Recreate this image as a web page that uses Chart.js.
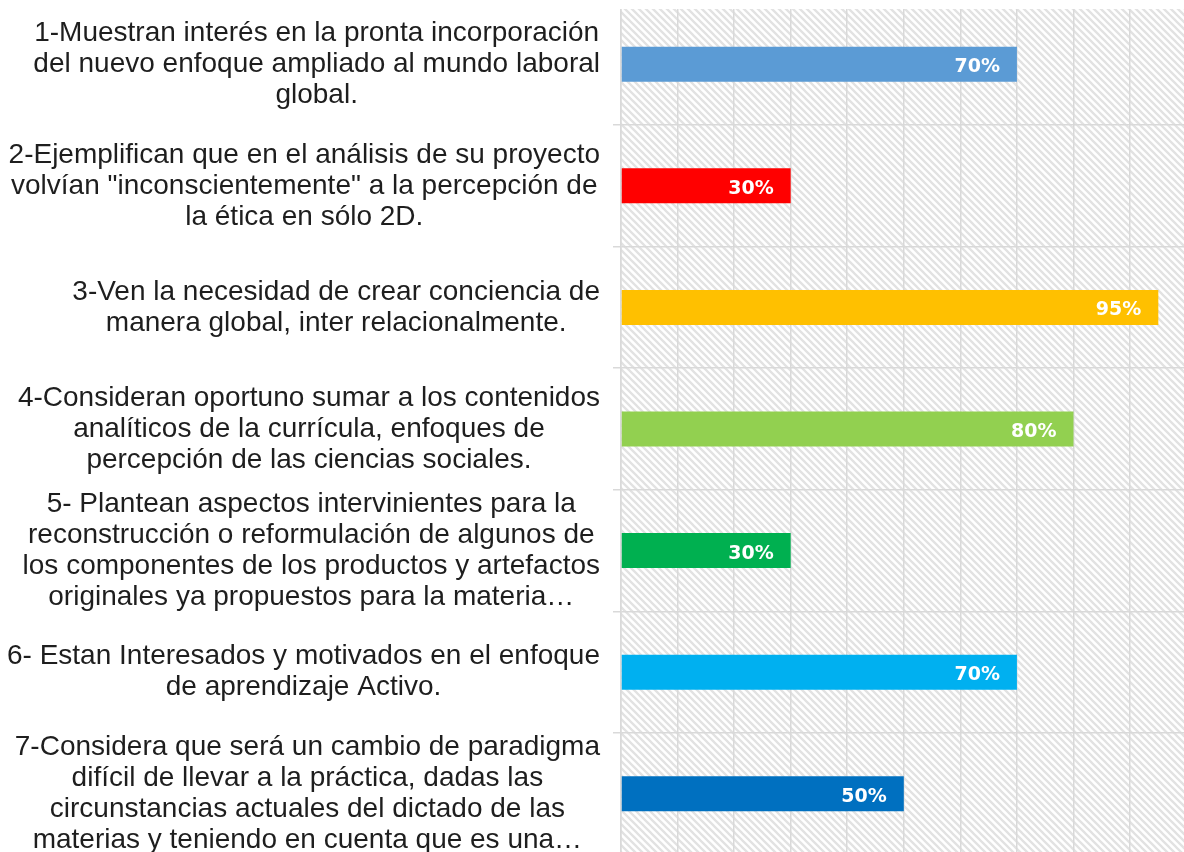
<!DOCTYPE html>
<html lang="es">
<head>
<meta charset="utf-8">
<title>Percepción del enfoque ampliado</title>
<script src="https://cdn.jsdelivr.net/npm/chart.js@4.4.1/dist/chart.umd.min.js"></script>
<style>
    html, body { margin: 0; padding: 0; background: #fff; overflow: hidden; }
    #wrap { position: absolute; left: 0; top: 0; }
</style>
</head>
<body>
<div id="wrap"><canvas id="chart" width="1190" height="858"></canvas></div>
<script>
// Categories (one array of lines per bar, as wrapped in the original)
const categories = [
    ['1-Muestran interés en la pronta incorporación', 'del nuevo enfoque ampliado al mundo laboral', 'global.'],
    ['2-Ejemplifican que en el análisis de su proyecto', 'volvían "inconscientemente" a la percepción de', 'la ética en sólo 2D.'],
    ['3-Ven la necesidad de crear conciencia de', 'manera global, inter relacionalmente.'],
    ['4-Consideran oportuno sumar a los contenidos', 'analíticos de la currícula, enfoques de', 'percepción de las ciencias sociales.'],
    ['5- Plantean aspectos intervinientes para la', 'reconstrucción o reformulación de algunos de', 'los componentes de los productos y artefactos', 'originales ya propuestos para la materia…'],
    ['6- Estan Interesados y motivados en el enfoque', 'de aprendizaje Activo.'],
    ['7-Considera que será un cambio de paradigma', 'difícil de llevar a la práctica, dadas las', 'circunstancias actuales del dictado de las', 'materias y teniendo en cuenta que es una…']
];

// Percentages
const values = [70, 30, 95, 80, 30, 70, 50];

const barColors = ['#5B9BD5', '#FF0000', '#FFC000', '#92D050', '#00B050', '#00B0F0', '#0070C0'];

// Value axis (no tick labels shown, only the grid)
const axisMin = 0;
const axisMax = 100;
const axisStep = 10;

// Layout constants
const PLOT_TOP = 9;          // hatched frame starts slightly below first band
const LABEL_RIGHT = 600;
const LABEL_LINE_H = 31;
const LABEL_FONT = '28px "Liberation Sans", Arial, sans-serif';
const GRID_COLOR = '#d9d9d9';

// Diagonal hatch tile for the plot background
const hatchTile = document.createElement('canvas');
(function () {
    const s = 7;
    hatchTile.width = s;
    hatchTile.height = s;
    const g = hatchTile.getContext('2d');
    g.strokeStyle = '#e2e2e2';
    g.lineWidth = 2.3;
    g.beginPath();
    g.moveTo(-1, -1); g.lineTo(s + 1, s + 1);
    g.moveTo(-2, s - 2); g.lineTo(2, s + 2);
    g.moveTo(s - 2, -2); g.lineTo(s + 2, 2);
    g.stroke();
})();

const plotBackground = {
    id: 'plotBackground',
    beforeDraw(chart) {
        const { ctx, chartArea: a } = chart;
        ctx.save();
        ctx.fillStyle = ctx.createPattern(hatchTile, 'repeat');
        ctx.fillRect(a.left, PLOT_TOP, a.right - a.left, a.bottom - PLOT_TOP);
        ctx.restore();
    },
    beforeDatasetsDraw(chart) {
        // hide grid above the frame top
        const { ctx, chartArea: a } = chart;
        ctx.save();
        ctx.fillStyle = '#fff';
        ctx.fillRect(a.left - 12, 0, a.right - a.left + 20, PLOT_TOP);
        ctx.restore();
    }
};

// Multi-line category labels, centred within their own block, block right-aligned
const categoryLabels = {
    id: 'categoryLabels',
    afterDraw(chart) {
        const { ctx } = chart;
        const yScale = chart.scales.y;
        ctx.save();
        ctx.font = LABEL_FONT;
        ctx.fillStyle = '#1e1e1e';
        ctx.textAlign = 'center';
        ctx.textBaseline = 'middle';
        chart.data.labels.forEach((lines, i) => {
            const cy = yScale.getPixelForValue(i);
            const w = Math.max(...lines.map(l => ctx.measureText(l).width));
            const cx = LABEL_RIGHT - w / 2;
            lines.forEach((line, j) => {
                ctx.fillText(line, cx, cy + (j - (lines.length - 1) / 2) * LABEL_LINE_H);
            });
        });
        ctx.restore();
    }
};

// Percent labels inside the bar ends
const valueLabels = {
    id: 'valueLabels',
    afterDatasetsDraw(chart) {
        const { ctx } = chart;
        const meta = chart.getDatasetMeta(0);
        ctx.save();
        ctx.font = 'bold 19px "DejaVu Sans", sans-serif';
        ctx.fillStyle = '#fff';
        ctx.textAlign = 'right';
        ctx.textBaseline = 'middle';
        meta.data.forEach((bar, i) => {
            ctx.fillText(values[i] + '%', bar.x - 17, bar.y + 3);
        });
        ctx.restore();
    }
};

const ctx = document.getElementById('chart').getContext('2d');
new Chart(ctx, {
    type: 'bar',
    data: {
        labels: categories,
        datasets: [{
            data: values,
            backgroundColor: barColors,
            borderWidth: 0,
            barPercentage: 0.288,
            categoryPercentage: 1
        }]
    },
    options: {
        indexAxis: 'y',
        responsive: false,
        animation: false,
        layout: { padding: { left: 613, top: 3.4, right: 3.4, bottom: 3.4 } },
        plugins: {
            legend: { display: false },
            tooltip: { enabled: false }
        },
        scales: {
            x: {
                min: axisMin,
                max: axisMax,
                ticks: { display: false, stepSize: axisStep },
                grid: { color: GRID_COLOR, lineWidth: 1.5, drawTicks: false },
                border: { display: false }
            },
            y: {
                ticks: { display: false },
                grid: { color: GRID_COLOR, lineWidth: 1.5, tickLength: 8, offset: true },
                border: { color: GRID_COLOR, width: 1.5 }
            }
        }
    },
    plugins: [plotBackground, categoryLabels, valueLabels]
});
</script>
</body>
</html>
